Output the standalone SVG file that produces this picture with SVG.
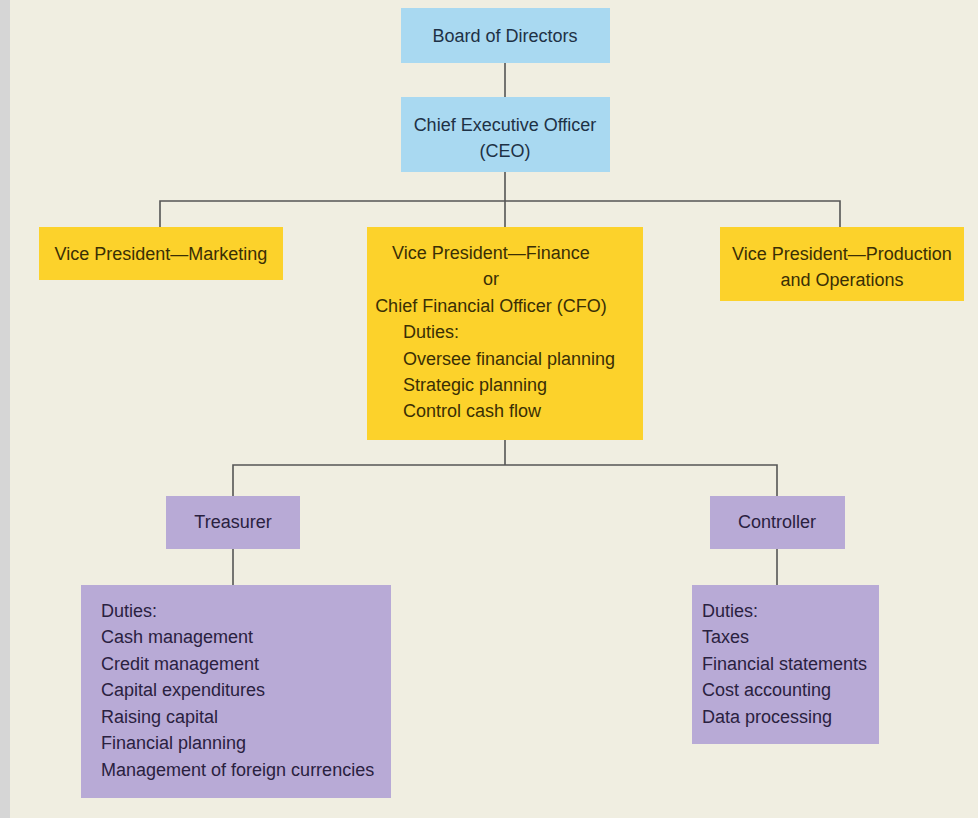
<svg xmlns="http://www.w3.org/2000/svg" width="978" height="818" viewBox="0 0 978 818">
<style>
text{font-family:"Liberation Sans",Arial,sans-serif;font-size:18px}
.c{text-anchor:middle}
.blue rect{fill:#a9d9f1}
.blue text{fill:#1e3145}
.yel rect{fill:#fcd22b}
.yel text{fill:#3a2f05}
.pur rect{fill:#b8aad6}
.pur text{fill:#2a2140}
.con path{fill:none;stroke:#555;stroke-width:1.6}
</style>
<rect x="0" y="0" width="978" height="818" fill="#f0eee1"/>
<rect x="0" y="0" width="10" height="818" fill="#d6d6d6"/>
<g class="con">
<path d="M505 63V97"/>
<path d="M505 172V201M160 227V201H840V227M505 201V227"/>
<path d="M505 440V465M233 496V465H777V496"/>
<path d="M233 549V585"/>
<path d="M777 549V585"/>
</g>
<g id="board" class="blue">
<rect x="401" y="8" width="209" height="55"/>
<text class="c" x="505" y="42">Board of Directors</text>
</g>
<g id="ceo" class="blue">
<rect x="401" y="97" width="209" height="75"/>
<text class="c" x="505" y="131">Chief Executive Officer</text>
<text class="c" x="505" y="157">(CEO)</text>
</g>
<g id="vp-marketing" class="yel">
<rect x="39" y="227" width="244" height="53"/>
<text class="c" x="161" y="260">Vice President—Marketing</text>
</g>
<g id="vp-finance" class="yel">
<rect x="367" y="227" width="276" height="213"/>
<text class="c" x="491" y="259">Vice President—Finance</text>
<text class="c" x="491" y="285">or</text>
<text class="c" x="491" y="312">Chief Financial Officer (CFO)</text>
<text x="403" y="338">Duties:</text>
<text x="403" y="365">Oversee financial planning</text>
<text x="403" y="391">Strategic planning</text>
<text x="403" y="417">Control cash flow</text>
</g>
<g id="vp-production" class="yel">
<rect x="720" y="227" width="244" height="74"/>
<text class="c" x="842" y="260">Vice President—Production</text>
<text class="c" x="842" y="286">and Operations</text>
</g>
<g id="treasurer" class="pur">
<rect x="166" y="496" width="134" height="53"/>
<text class="c" x="233" y="528">Treasurer</text>
</g>
<g id="treasurer-duties" class="pur">
<rect x="81" y="585" width="310" height="213"/>
<text x="101" y="617">Duties:</text>
<text x="101" y="643">Cash management</text>
<text x="101" y="670">Credit management</text>
<text x="101" y="696">Capital expenditures</text>
<text x="101" y="723">Raising capital</text>
<text x="101" y="749">Financial planning</text>
<text x="101" y="776">Management of foreign currencies</text>
</g>
<g id="controller" class="pur">
<rect x="710" y="496" width="135" height="53"/>
<text class="c" x="777" y="528">Controller</text>
</g>
<g id="controller-duties" class="pur">
<rect x="692" y="585" width="187" height="159"/>
<text x="702" y="617">Duties:</text>
<text x="702" y="643">Taxes</text>
<text x="702" y="670">Financial statements</text>
<text x="702" y="696">Cost accounting</text>
<text x="702" y="723">Data processing</text>
</g>
</svg>
